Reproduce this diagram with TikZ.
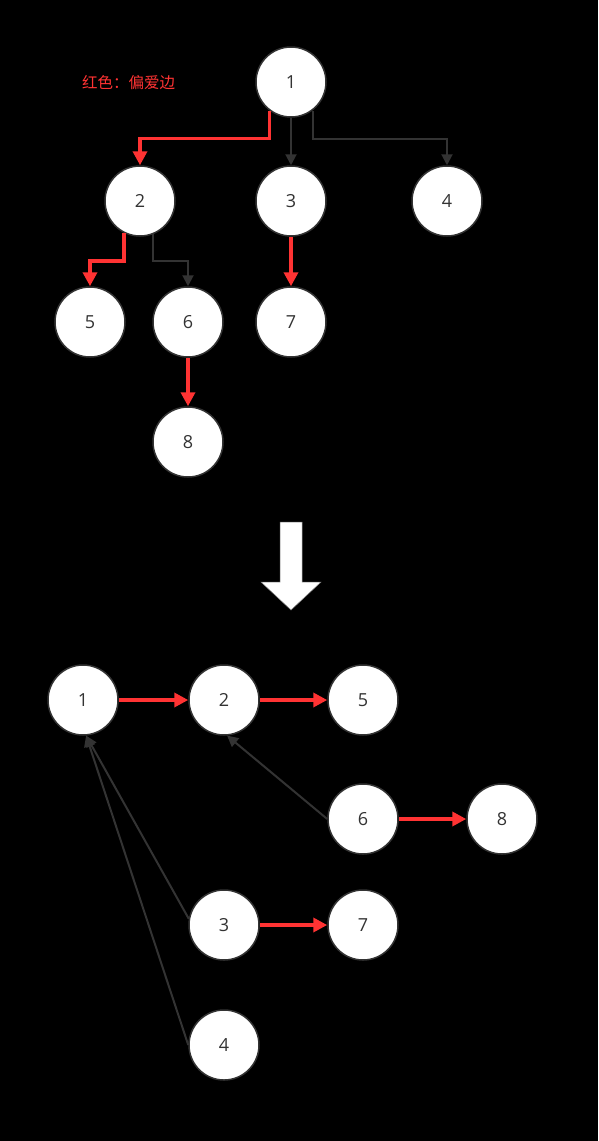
\documentclass[tikz,border=0pt]{standalone}
\usepackage{fontspec}
\setmainfont{Open Sans}
\newfontfamily\cjk{Noto Sans CJK SC}
\usetikzlibrary{arrows.meta}
\definecolor{prefred}{HTML}{FF3333}
\definecolor{edgegray}{HTML}{333333}
\tikzset{
  vtx/.style={circle, draw=edgegray, line width=1.5pt, fill=white, minimum size=70pt,
    inner sep=0pt, text=edgegray, font=\fontsize{18}{20}\selectfont},
  pref/.style={draw=prefred, line width=3.5pt, -{Triangle[length=14pt,width=14pt]}},
  plain/.style={draw=edgegray, line width=2pt, -{Triangle[length=11pt,width=11pt]}}
}
\begin{document}
\begin{tikzpicture}[x=1pt,y=-1pt]
\fill[black] (0,0) rectangle (598,1141);

% tree
\node[vtx] (t1) at (291,82) {1};
\node[vtx] (t2) at (140,201) {2};
\node[vtx] (t3) at (291,201) {3};
\node[vtx] (t4) at (447,201) {4};
\node[vtx] (t5) at (90,322) {5};
\node[vtx] (t6) at (188,322) {6};
\node[vtx] (t7) at (291,322) {7};
\node[vtx] (t8) at (188,442) {8};

\node[text=prefred, font=\cjk\fontsize{15.5}{17}\selectfont] (note) at (128.5,83) {红色：偏爱边};

\draw[pref] (t1.-127) -- ++(0,28) -| (t2.north);
\draw[plain] (t1.south) -- (t3.north);
\draw[plain] (t1.-53) -- ++(0,28) -| (t4.north);
\draw[pref] (t2.-117) -- ++(0,28) -| (t5.north);
\draw[plain] (t2.-68) -- ++(0,27) -| (t6.north);
\draw[pref] (t3.south) -- (t7.north);
\draw[pref] (t6.south) -- (t8.north);

% big arrow
\draw[fill=white, draw=gray, line width=0.5pt]
  (280,522) -- (302,522) -- (302,582) -- (321,582) -- (291,610)
  -- (261,582) -- (280,582) -- cycle;

% path
\node[vtx] (b1) at (83,700) {1};
\node[vtx] (b2) at (224,700) {2};
\node[vtx] (b5) at (363,700) {5};
\node[vtx] (b6) at (363,819) {6};
\node[vtx] (b8) at (502,819) {8};
\node[vtx] (b3) at (224,925) {3};
\node[vtx] (b7) at (363,925) {7};
\node[vtx] (b4) at (224,1045) {4};

\draw[pref] (b1) -- (b2);
\draw[pref] (b2) -- (b5);
\draw[pref] (b6) -- (b8);
\draw[pref] (b3) -- (b7);
\draw[plain] (b6.west) -- (b2.-85);
\draw[plain] (b3.170) -- (b1.-85);
\draw[plain] (b4.west) -- (b1.-85);
\end{tikzpicture}
\end{document}
